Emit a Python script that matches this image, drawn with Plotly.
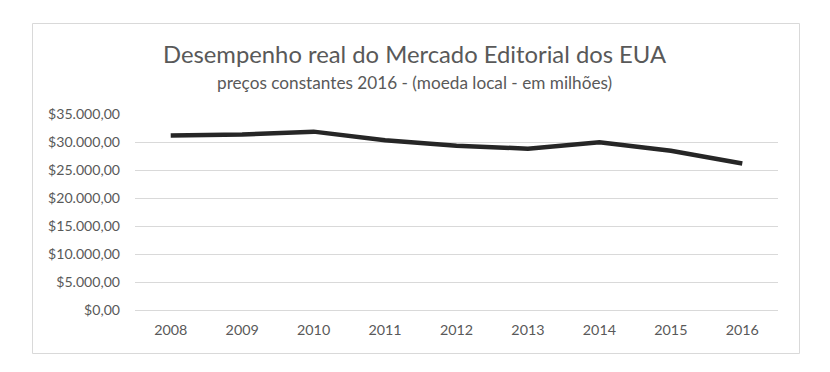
import plotly.graph_objects as go

years = ["2008", "2009", "2010", "2011", "2012", "2013", "2014", "2015", "2016"]
values = [31150, 31350, 31850, 30300, 29350, 28800, 29950, 28450, 26150]
tick_vals = [0, 5000, 10000, 15000, 20000, 25000, 30000, 35000]
tick_text = ["$0,00", "$5.000,00", "$10.000,00", "$15.000,00", "$20.000,00",
             "$25.000,00", "$30.000,00", "$35.000,00"]

OFF = 8  # page body margin
W, H = 830 - OFF, 372 - OFF
# target plot area in window pixels: x 135..778, y 114..310
L, T = 135 - OFF, 114 - OFF
R = W - (778 - OFF)
B = H - (310 - OFF)
pw, ph = W - L - R, H - T - B

def px(x):
    return (x - OFF - L) / pw

def py(y):
    return (H - B - (y - OFF)) / ph

font = "Lato, 'Open Sans', sans-serif"
grey = "#595959"

fig = go.Figure()
fig.add_trace(go.Scatter(
    x=years, y=values, mode="lines",
    line=dict(color="#262626", width=4.5),
    hoverinfo="x+y",
))

fig.update_layout(
    width=W, height=H,
    margin=dict(l=L, r=R, t=T, b=B),
    paper_bgcolor="white", plot_bgcolor="white",
    showlegend=False,
    font=dict(family=font, color=grey, size=14),
    xaxis=dict(
        type="category", showgrid=False, zeroline=False,
        showline=False, ticks="", tickfont=dict(size=14.3, color=grey),
        range=[-0.5, 8.5], ticklabelstandoff=10,
    ),
    yaxis=dict(
        range=[0, 35000], tickvals=tick_vals, ticktext=tick_text,
        showgrid=True, gridcolor="#d9d9d9", gridwidth=1,
        zeroline=True, zerolinecolor="#d9d9d9", zerolinewidth=1,
        showline=False, ticks="", ticklabelstandoff=14,
        tickfont=dict(size=14.1, color=grey),
    ),
    shapes=[dict(
        type="rect", xref="paper", yref="paper",
        x0=px(32.5), x1=px(799.5), y0=py(353.5), y1=py(23.5),
        line=dict(color="#d9d9d9", width=1), fillcolor="rgba(0,0,0,0)",
        layer="below",
    )],
    annotations=[
        dict(text="Desempenho real do Mercado Editorial dos EUA",
             xref="paper", yref="paper", x=px(415), y=py(54),
             xanchor="center", yanchor="middle", showarrow=False,
             font=dict(size=23.8, color=grey, family=font)),
        dict(text="preços constantes 2016 - (moeda local - em milhões)",
             xref="paper", yref="paper", x=px(414), y=py(82),
             xanchor="center", yanchor="middle", showarrow=False,
             font=dict(size=17.2, color=grey, family=font)),
    ],
)

fig.write_html("out.html")
